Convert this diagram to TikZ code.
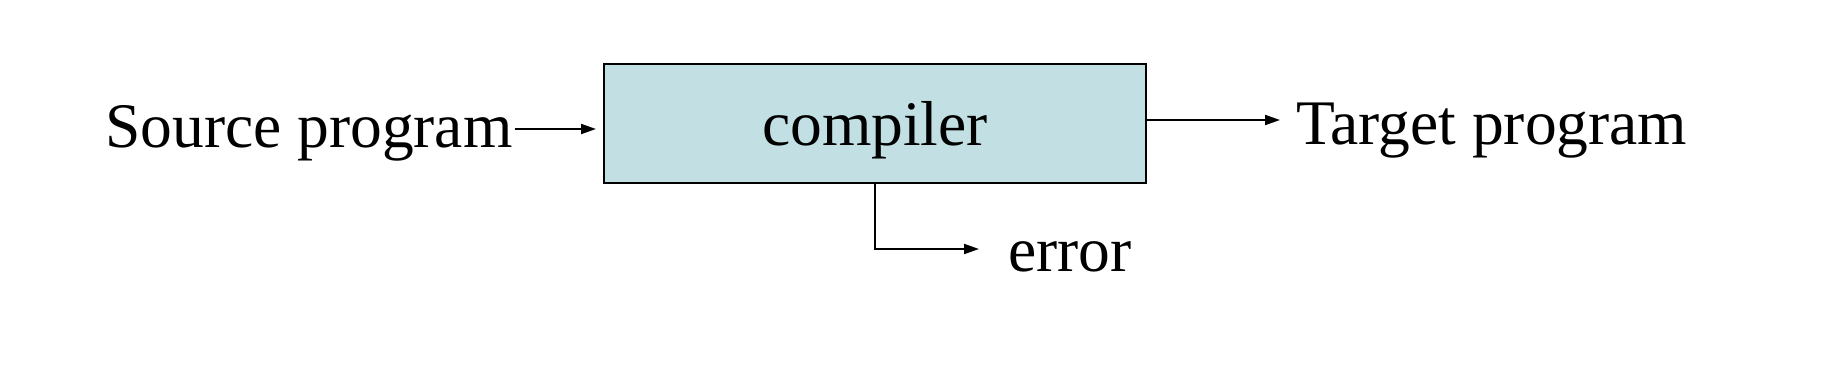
\documentclass[tikz,border=0pt]{standalone}
\usepackage{fontspec}
\setmainfont{Liberation Serif}
\usetikzlibrary{arrows.meta}
\definecolor{boxfill}{RGB}{194,224,227}
\begin{document}
\begin{tikzpicture}[x=1pt,y=-1pt,
  lbl/.style={inner sep=0pt,font=\fontsize{63.5}{70}\selectfont},
  arr/.style={draw=black,line width=2pt,-{Triangle[length=15pt,width=10pt]}},
  compbox/.style={draw=black,line width=2pt,fill=boxfill,minimum width=542pt,minimum height=119pt,inner sep=0pt,
    text height=45pt,text depth=0pt,font=\fontsize{63.5}{70}\selectfont}]
\useasboundingbox (0,0) rectangle (1826,366);
\node[compbox] (box) at (875,123.5) {compiler};
\node[lbl,anchor=base west] (src) at (105,148) {Source program};
\node[lbl,anchor=base west] (tgt) at (1296,145) {Target program};
\node[lbl,anchor=base west] (err) at (1008,272) {error};
\coordinate (srcend) at (516,129);
\coordinate (boxin) at (596,129);
\coordinate (boxout) at (1147,120);
\coordinate (tgttip) at (1280,120);
\coordinate (errtip) at (979,249);
\draw[arr] ([xshift=2pt]src.east |- srcend) -- (boxin);
\draw[arr] (box.east |- boxout) -- (tgttip);
\draw[arr] (box.south) |- (errtip);
\end{tikzpicture}
\end{document}
